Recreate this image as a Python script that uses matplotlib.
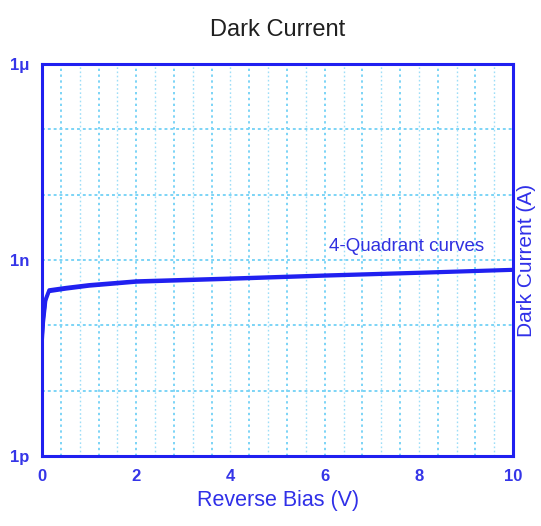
import matplotlib
matplotlib.use("Agg")
import matplotlib.pyplot as plt
import numpy as np
from matplotlib.ticker import FixedLocator, NullFormatter

plt.rcParams['font.family'] = ['Liberation Sans', 'DejaVu Sans']

# reverse bias (V) and dark current (A) for the quadrant elements
bias = [0.0, 0.03, 0.08, 0.15, 0.5, 1.0, 2.0, 4.0, 6.0, 8.0, 10.0]
current_a = [5.0e-11, 1.1e-10, 2.4e-10, 3.3e-10, 3.6e-10, 4.0e-10, 4.6e-10, 5.1e-10, 5.7e-10, 6.3e-10, 7.0e-10]
current_b = [6.0e-11, 1.3e-10, 2.6e-10, 3.5e-10, 3.8e-10, 4.2e-10, 4.8e-10, 5.3e-10, 5.9e-10, 6.5e-10, 7.2e-10]

decades = [1e-12, 1e-11, 1e-10, 1e-9, 1e-8, 1e-7, 1e-6]
ytick_vals = [1e-12, 1e-9, 1e-6]
ytick_text = ['1p', '1n', '1μ']
xtick_vals = [0, 2, 4, 6, 8, 10]

blue = '#2020f0'
grid_c = '#7cd4f6'

fig = plt.figure(figsize=(5.41, 5.26), dpi=100)
ax = fig.add_axes([0.0776, 0.133, 0.871, 0.745])

ax.set_yscale('log')
ax.set_xlim(0, 10)
ax.set_ylim(1e-12, 1e-6)

# dotted grid: every decade, every 0.4 V
for d in decades[1:-1]:
    ax.axhline(d, color=grid_c, ls=(0, (1.5, 1.5)), lw=1.4, zorder=1)
for i, xv in enumerate(np.arange(0.4, 10, 0.4)):
    ax.axvline(xv, color=grid_c, ls=(0, (1.2, 1.8)), lw=1.4 if i % 2 == 0 else 1.0,
               alpha=1.0 if i % 2 == 0 else 0.75, zorder=1)

ax.plot(bias, current_a, color=blue, lw=2.4, zorder=3, solid_capstyle='butt')
ax.plot(bias, current_b, color=blue, lw=2.4, zorder=3, solid_capstyle='butt')

ax.text(6.1, 1.6e-9, '4-Quadrant curves', color='#3030e0', fontsize=13.5,
        ha='left', va='center')

ax.yaxis.set_major_locator(FixedLocator(ytick_vals))
ax.set_yticklabels(ytick_text)
ax.yaxis.set_minor_formatter(NullFormatter())
ax.yaxis.set_minor_locator(FixedLocator([]))
ax.set_xticks(xtick_vals)
ax.tick_params(axis='both', length=0, labelcolor='#3535e8', labelsize=12, pad=9)
for lbl in ax.get_xticklabels() + ax.get_yticklabels():
    lbl.set_fontweight('bold')

for s in ax.spines.values():
    s.set_color(blue)
    s.set_linewidth(2.2)

ax.set_xlabel('Reverse Bias (V)', color='#3030e8', fontsize=15.5, labelpad=5)
ax.yaxis.set_label_position('right')
ax.set_ylabel('Dark Current (A)', color='#3030e8', fontsize=15, labelpad=3)
ax.set_title('Dark Current', fontsize=17, color='#202020', pad=20,
             family=['Liberation Sans Narrow', 'Liberation Sans'])

fig.savefig('out.png', dpi=100)
